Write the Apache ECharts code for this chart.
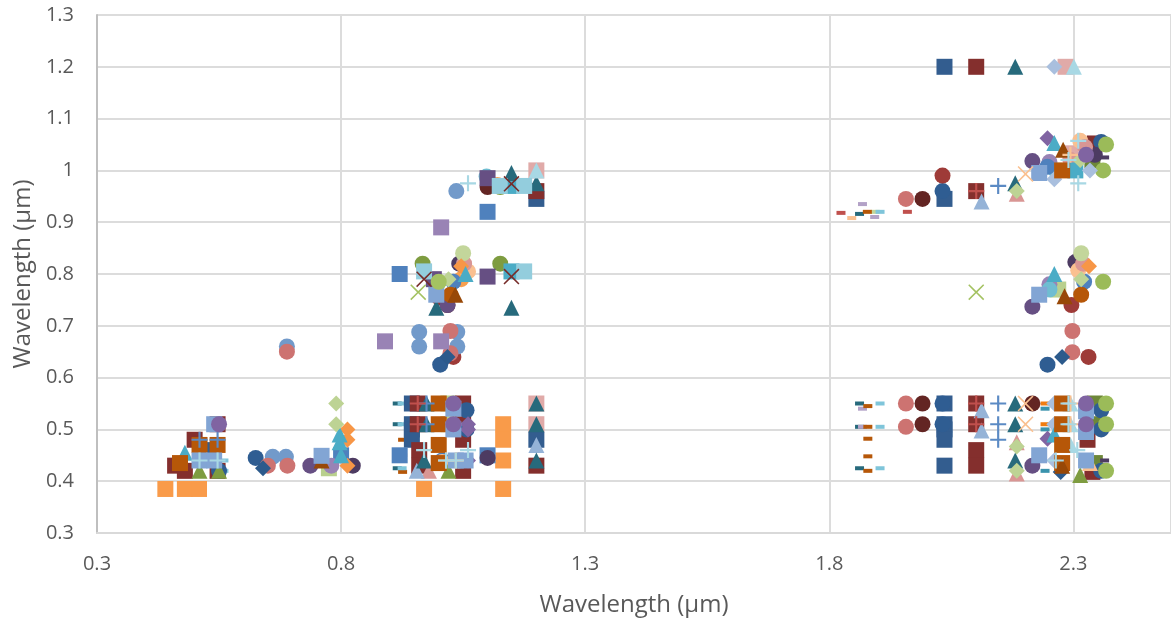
<!DOCTYPE html>
<html><head><meta charset="utf-8">
<style>html,body{margin:0;padding:0;background:#fff}#c{width:1171px;height:622px}</style>
<script src="https://cdn.jsdelivr.net/npm/echarts@6/dist/echarts.min.js"></script>
</head><body><div id="c"></div>
<script>
const axisTitle = 'Wavelength (µm)';
const xTicks = [0.3, 0.8, 1.3, 1.8, 2.3];
// ---- small dash markers
const redDash = [[1.824,.918],[1.96,.92]];
const peachDash = [[1.846,.908]];
const tealDash = [[1.862,.916],[1.862,.55],[1.862,.505],[1.862,.425],[.915,.55],[.915,.51],[.915,.425]];
const purpleDash = [[1.868,.935],[1.893,.91],[1.868,.54],[1.868,.505]];
const brownDash = [[1.878,.92],[1.879,.545],[1.879,.505],[1.879,.482],[1.879,.448],[1.879,.42],[.926,.48],[.926,.45],[.926,.418]];
const paleGreenDash = [[1.894,.92]];
const aquaDash = [[1.904,.92],[1.904,.55],[1.904,.505],[1.904,.425],[.925,.55],[.925,.51],[.925,.425],[.56,.44],[.56,.42],[1.2,.42],[2.364,.55],[2.364,.51],[2.364,.42]];
const orangeDash = [[2.242,.55],[2.242,.51]];
const tealDash2 = [[2.242,.54],[2.242,.5],[2.242,.42]];
const darkPurpleDash = [[2.364,.44],[2.364,.54],[2.364,.5],[2.364,1.025]];
// ---- circles
const darkBlueCircles = [[.625,.445],[1.003,.625],[2.247,.625],[2.032,.96],[2.032,.55],[2.032,.51],[2.357,1.055],[2.357,.537],[2.357,.5],[2.357,.42],[.55,.42],[1.057,.537],[1.057,.5]];
const maroonCircles = [[1.991,.945],[1.991,.55],[1.991,.51],[1.1,.968],[1.018,.74],[2.216,.55]];
const brickCircles = [[2.032,.99],[1.03,.64],[2.331,.64],[2.296,.74],[1.0,.755]];
const paleBlueCircles = [[.66,.447],[.687,.447],[.689,.66],[.96,.688],[.96,.66],[1.038,.688],[1.038,.66],[1.036,.96]];
const roseCircles = [[.65,.43],[.69,.43],[.689,.65],[1.024,.69],[1.024,.647],[2.298,.69],[2.298,.649],[1.957,.945],[1.957,.55],[1.957,.505]];
const inkCircles = [[.824,.43],[1.1,.445],[1.042,.82],[2.304,.823],[2.344,1.03]];
const plumCircles = [[.737,.43],[1.018,.74],[2.216,.737],[2.216,1.018],[2.216,.43]];
const lilacCircles = [[.78,.43],[2.251,.78],[2.251,1.016]];
const skyCircles = [[1.098,.988],[2.251,.77],[2.264,1.0]];
const oliveCircles = [[.967,.82],[1.126,.82],[1.126,.968]];
const orangeCircles = [[1.12,.972],[1.046,.79]];
const blueCircles = [[1.03,.785],[2.322,.785],[2.247,1.007],[1.007,.44]];
const limeCircles = [[2.361,.785],[2.367,1.05],[2.361,1.0],[2.367,.55],[2.367,.51],[2.367,.42],[1.0,.785]];
const rustCircles = [[1.024,.76],[2.316,.76]];
const peachCircles = [[1.06,.805],[2.31,.807],[2.314,1.057],[1.007,.437],[1.04,.44]];
const pinkCircles = [[1.052,.82],[2.32,.82],[2.324,1.045],[2.294,1.02]];
const paleGreenCircles = [[1.05,.84],[2.316,.84]];
// ---- squares
const paleGreenSquares = [[.775,.425],[2.269,.77],[1.02,.51],[1.02,.55]];
const orangeSquares = [[.44,.385],[.48,.385],[.509,.385],[.97,.385],[1.132,.51],[1.132,.48],[1.132,.44],[1.132,.385]];
const pinkSquares = [[2.284,1.2],[1.2,1],[1.2,.55],[1.2,.51],[2.294,1.033]];
const navySquares = [[.945,.55],[.945,.51],[.945,.5],[.945,.48],[2.036,1.2],[2.036,.945],[2.036,.55],[2.036,.51],[2.036,.5],[2.036,.48],[2.036,.43],[1.2,.945],[1.2,.48],[.53,.46]];
const blueSquares = [[.8,.45],[.92,.45],[.92,.8],[1.1,.92],[1.1,.45]];
const maroonSquares = [[.5,.48],[.46,.43],[.48,.42],[.547,.51],[.547,.42],[.957,.55],[.957,.51],[.96,.46],[.96,.43],[1.05,.55],[1.05,.51],[1.05,.48],[1.05,.42],[2.101,1.2],[2.101,.96],[2.101,.55],[2.101,.51],[2.101,.46],[2.101,.43],[1.2,.96],[1.2,.43],[2.329,.48],[2.339,.418],[2.344,1.052]];
const oliveSquares = [[2.344,.55],[2.344,.51],[2.344,.435],[2.339,1.02]];
const plumSquares = [[1.1,.985],[1.1,.795],[.99,.79]];
const lilacSquares = [[.89,.67],[1.005,.89],[1.005,.67]];
const skySquares = [[1.149,.97],[1.149,.805],[2.304,1.0]];
// ---- diamonds
const navyDiamonds = [[.64,.425],[1.018,.64],[2.277,.64],[2.274,.418]];
const purpleDiamonds = [[2.247,1.062],[2.247,.482],[1.06,.5],[1.06,.51],[1.06,.44]];
const orangeDiamonds = [[.813,.5],[.813,.48],[.813,.43],[1.046,.815],[2.332,.815]];
const peachDiamonds = [[1.01,.55],[1.01,.51]];
const paleBlueDiamonds = [[2.261,1.2],[2.261,.983],[2.261,.55],[2.261,.51],[2.261,.44],[2.334,1.0]];
const paleGreenDiamonds = [[.79,.55],[.79,.51],[1.02,.79],[2.316,.79],[2.314,1.02],[2.184,.96],[2.184,.467],[2.184,.42]];
// ---- triangles
const pinkTriangles = [[2.184,.955],[2.184,.475],[2.184,.415],[.98,.42]];
const aquaTriangles = [[.48,.455],[.797,.49],[.797,.475],[.8,.45],[2.261,1.053],[2.261,.8],[1.055,.8],[2.261,.49]];
const oliveTriangles = [[.51,.42],[.55,.42],[1.02,.42],[2.314,.412]];
const peachTriangle = [[2.334,.435]];
const paleBlueTriangles = [[.955,.42],[2.112,.94],[2.112,.537],[2.112,.498],[1.2,.47]];
const tealTriangles = [[1.149,.995],[1.149,.735],[.995,.735],[.975,.55],[.975,.51],[.97,.44],[1.2,.975],[1.2,.55],[1.2,.51],[1.2,.44],[2.181,1.2],[2.181,.975],[2.181,.55],[2.181,.51],[2.181,.44]];
const rustTriangles = [[.76,.44],[1.034,.76],[2.282,.757],[2.279,1.04],[2.277,.43]];
const skyTriangles = [[1.2,1],[2.301,1.2],[2.294,.55],[2.294,.51],[2.294,.47]];
// ---- brown squares and light-blue squares on top
const rustSquares = [[.47,.435],[.51,.47],[.547,.47],[1,.55],[1,.51],[1,.47],[1,.435],[2.277,.55],[2.277,.51],[2.277,.47],[2.277,.435],[2.277,1]];
const mistSquares = [[.76,.449],[.54,.51],[.51,.44],[.54,.44],[1.035,.44],[1.055,.44],[.995,.76],[2.23,.76],[2.23,.995],[2.23,.45],[2.326,.44],[2.326,.535],[2.326,.495],[1.03,.54],[1.03,.5]];
const frostSquares = [[.97,.805],[1.175,.805],[1.175,.97],[1.125,.97]];
// ---- crosses and pluses
const paleGreenCross = [[.958,.765],[2.101,.765]];
const maroonCross = [[.97,.79],[1.149,.795],[1.149,.974]];
const peachCross = [[2.202,.993],[2.202,.55],[2.202,.51]];
const bluePlus = [[.51,.48],[.547,.48],[.975,.55],[.975,.51],[2.146,.97],[2.146,.55],[2.146,.51],[2.146,.48]];
const redPlus = [[.957,.55],[.957,.51],[2.101,.96],[2.101,.55],[2.101,.51]];
const peachPlus = [[2.294,1.03],[2.294,.55],[2.294,.51],[1.035,.44],[1.015,.44]];
const frostPlus = [[.51,.44],[.547,.44],[1.06,.975],[2.31,1.057],[2.31,.975],[2.29,1.02],[.97,.46],[1.06,.46],[1.015,.44],[1.035,.44],[2.308,.46],[2.29,.55],[2.29,.51],[2.264,.44]];
// ---- topmost circles
const purpleCircles = [[.55,.51],[1.03,.55],[1.03,.51],[2.326,.55],[2.326,.51],[2.326,1.03]];
const lateGreenCircles = [[1,.785]];

const PLUS = 'path://M6.5,0H8.5V6.5H15V8.5H8.5V15H6.5V8.5H0V6.5H6.5Z';
const CROSS = 'path://M1,0L7.5,6.4L14,0L15,1L8.6,7.5L15,14L14,15L7.5,8.6L1,15L0,14L6.4,7.5L0,1Z';
const D = [9, 4];
const S = 16;
const layers = [
  [redDash,'rect','#c0504d',D],[peachDash,'rect','#fac090',D],[tealDash,'rect','#276a7c',D],[purpleDash,'rect','#b3a2c7',D],
  [paleGreenDash,'rect','#c3d69b',D],[brownDash,'rect','#b65708',D],[aquaDash,'rect','#7fc5da',D],[orangeDash,'rect','#f07c10',D],[tealDash2,'rect','#3a93ad',D],
  [paleGreenSquares,'rect','#b9d08e',S],[orangeSquares,'rect','#f99b4a',S],[pinkSquares,'rect','#e0aaa8',S],
  [navySquares,'rect','#335d8f',S],[blueSquares,'rect','#4f81bd',S],[maroonSquares,'rect','#842f2d',S],
  [oliveSquares,'rect','#6d8738',S],[darkPurpleDash,'rect','#4d3b62',D],
  [orangeCircles,'circle','#f9a04f',S],[darkBlueCircles,'circle','#2f5d92',S],[brickCircles,'circle','#9e3b38',S],
  [maroonCircles,'circle','#632523',S],[paleBlueCircles,'circle','#729aca',S],[roseCircles,'circle','#cd7371',S],
  [inkCircles,'circle','#4d3b62',S],[plumCircles,'circle','#664f83',S],[lilacCircles,'circle','#9983b5',S],[skyCircles,'circle','#6fbdd1',S],
  [oliveCircles,'circle','#7e9c40',S],[blueCircles,'circle','#4f81bd',S],[limeCircles,'circle','#9bbb59',S],[rustCircles,'circle','#b65708',S],
  [peachCircles,'circle','#fac090',S],[pinkCircles,'circle','#d99694',S],[paleGreenCircles,'circle','#c3d69b',S],
  [plumSquares,'rect','#664f83',S],[lilacSquares,'rect','#9983b5',S],[skySquares,'rect','#4bacc6',S],
  [navyDiamonds,'diamond','#2c5a8c',S],[purpleDiamonds,'diamond','#8064a2',S],[orangeDiamonds,'diamond','#f79646',S],[peachDiamonds,'diamond','#fac090',S],[paleBlueDiamonds,'diamond','#a9bfde',S],
  [pinkTriangles,'triangle','#d99694',S],[aquaTriangles,'triangle','#4bacc6',S],[oliveTriangles,'triangle','#7e9c40',S],[peachTriangle,'triangle','#fac090',S],
  [paleBlueTriangles,'triangle','#95b3d7',S],[tealTriangles,'triangle','#276a7c',S],[paleGreenDiamonds,'diamond','#bdd394',S],[skyTriangles,'triangle','#a8d8e4',S],
  [rustSquares,'rect','#b65708',S],[rustTriangles,'triangle','#984807',S],[mistSquares,'rect','#82a5d4',S],[frostSquares,'rect','#93cddd',S],
  [paleGreenCross,'x','#a4c262',S],[maroonCross,'x','#772c2a',S],[peachCross,'x','#fac090',S],
  [bluePlus,'+','#5b8ac4',S],[redPlus,'+','#c0504d',S],[peachPlus,'+','#fac090',S],[frostPlus,'+','#a8d8e4',S],
  [purpleCircles,'circle','#8064a2',S],[lateGreenCircles,'circle','#a4c262',S]
];
const textStyle = {color:'#595959',fontFamily:'"Open Sans"'};
const chart = echarts.init(document.getElementById('c'),null,{renderer:'canvas'});
chart.setOption({
  animation:false,
  grid:{left:97,top:15,right:-1,bottom:89,containLabel:false},
  xAxis:{type:'value',min:xTicks[0],max:2.5,interval:xTicks[1]-xTicks[0],
    name:axisTitle,nameLocation:'middle',nameGap:60,nameTextStyle:{...textStyle,fontSize:24},
    axisLine:{show:true,onZero:false,lineStyle:{color:'#d9d9d9',width:2}},axisTick:{show:false},
    axisLabel:{...textStyle,fontSize:20,margin:21,showMaxLabel:false,formatter:v=>Number(v).toFixed(1)},
    splitLine:{show:true,lineStyle:{color:'#dcdcdc',width:2}}},
  yAxis:{type:'value',min:.3,max:1.3,interval:.1,
    name:axisTitle,nameLocation:'middle',nameGap:61,nameTextStyle:{...textStyle,fontSize:24},
    axisLine:{show:true,onZero:false,lineStyle:{color:'#bfbfbf',width:2}},axisTick:{show:false},
    axisLabel:{...textStyle,fontSize:20,margin:23,formatter:v=>{const r=Math.round(v*10)/10;return Number.isInteger(r)?String(r):r.toFixed(1);}},
    splitLine:{show:true,lineStyle:{color:'#dcdcdc',width:2}}},
  series:layers.map(([data,shape,color,size])=>({
    type:'scatter',data,symbol:shape==='+'?PLUS:shape==='x'?CROSS:shape,symbolSize:size,
    itemStyle:{color,opacity:1},silent:true,clip:false
  }))
});
</script></body></html>
